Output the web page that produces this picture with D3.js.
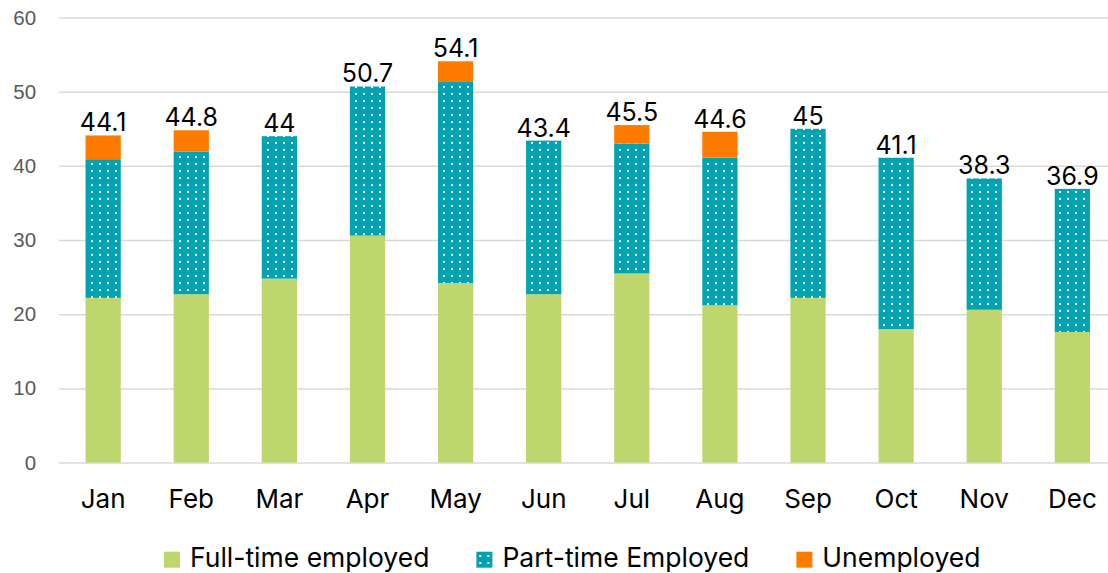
<!DOCTYPE html>
<html>
<head>
<meta charset="utf-8">
<script src="https://cdn.jsdelivr.net/npm/d3@7"></script>
<style>
  html, body { margin: 0; padding: 0; background: #fff; }
  svg { display: block; }
</style>
</head>
<body>
<svg id="chart" width="1108" height="573"></svg>
<script>
const months = ["Jan","Feb","Mar","Apr","May","Jun","Jul","Aug","Sep","Oct","Nov","Dec"];
const fullTime = [22.2, 22.7, 24.8, 30.6, 24.2, 22.7, 25.5, 21.2, 22.2, 18.0, 20.6, 17.6];
const partTime = [18.7, 19.2, 19.2, 20.1, 27.1, 20.7, 17.5, 19.9, 22.8, 23.1, 17.7, 19.3];
const unemployed = [3.2, 2.9, 0, 0, 2.8, 0, 2.5, 3.5, 0, 0, 0, 0];
const totals = [44.1, 44.8, 44, 50.7, 54.1, 43.4, 45.5, 44.6, 45, 41.1, 38.3, 36.9];
const yTicks = [0, 10, 20, 30, 40, 50, 60];
const seriesNames = ["Full-time employed", "Part-time Employed", "Unemployed"];

const svg = d3.select("#chart");
const W = 1108, H = 573;
const plot = { left: 59.1, right: 1116.4, top: 17.5, bottom: 462.6 };

const x = d3.scaleBand().domain(months).range([plot.left, plot.right])
  .paddingInner(0.6).paddingOuter(0.3);
const y = d3.scaleLinear().domain([0, 60]).range([plot.bottom, plot.top]);

const defs = svg.append("defs");
const pat = defs.append("pattern").attr("id", "dots")
  .attr("patternUnits", "userSpaceOnUse").attr("width", 8).attr("height", 7);
pat.append("rect").attr("width", 8).attr("height", 7).attr("fill", "#00A3B3");
pat.append("rect").attr("x", 3).attr("y", 2).attr("width", 2).attr("height", 2).attr("fill", "#ffffff");

const colors = ["#BFD66F", "url(#dots)", "#FF7B00"];

// gridlines + y tick labels
const yAxis = d3.axisLeft(y).tickValues(yTicks).tickSize(-(W - plot.left)).tickPadding(23);
const gy = svg.append("g").attr("transform", `translate(${plot.left},0)`).call(yAxis);
gy.select(".domain").remove();
gy.selectAll(".tick line").attr("stroke", "#D9D9D9").attr("stroke-width", 1.5);
gy.selectAll(".tick text")
  .attr("fill", "#595959")
  .attr("font-family", "'Liberation Sans', Arial, sans-serif")
  .attr("font-size", 20.5);

// stacked bars
const rows = months.map((m, i) => ({ month: m, full: fullTime[i], part: partTime[i], unemp: unemployed[i] }));
const stack = d3.stack().keys(["full", "part", "unemp"]);
const layers = stack(rows);

svg.append("g").selectAll("g").data(layers).join("g")
  .attr("fill", (d, i) => colors[i])
  .selectAll("rect").data(d => d.filter(s => s[1] - s[0] > 0)).join("rect")
  .attr("x", d => x(d.data.month))
  .attr("width", x.bandwidth())
  .attr("y", d => y(d[1]))
  .attr("height", d => y(d[0]) - y(d[1]));

// data labels
const fmt = v => String(Math.round(v * 10) / 10);
svg.append("g").selectAll("text").data(months).join("text")
  .attr("x", m => x(m) + x.bandwidth() / 2)
  .attr("y", (m, i) => y(totals[i]) - 4)
  .attr("text-anchor", "middle")
  .attr("font-family", "Inter, 'Liberation Sans', sans-serif")
  .attr("font-size", 25)
  .attr("fill", "#000")
  .text((m, i) => fmt(totals[i]));

// x axis labels
const xAxis = d3.axisBottom(x).tickSize(0).tickPadding(0);
const gx = svg.append("g").attr("transform", `translate(0,${plot.bottom})`).call(xAxis);
gx.select(".domain").remove();
gx.selectAll(".tick text")
  .attr("dy", null)
  .attr("y", 45.5)
  .attr("fill", "#000")
  .attr("font-family", "Inter, 'Liberation Sans', sans-serif")
  .attr("font-size", 26);

// legend
const legend = svg.append("g");
const items = legend.selectAll("g").data(seriesNames).join("g");
items.append("rect").attr("width", 16).attr("height", 16).attr("y", 551.7)
  .attr("fill", (d, i) => colors[i]);
items.append("text").attr("x", 26).attr("y", 567)
  .attr("font-family", "Inter, 'Liberation Sans', sans-serif")
  .attr("font-size", 26.5)
  .attr("fill", "#000")
  .text(d => d);
let widths = [];
items.each(function () { widths.push(d3.select(this).select("text").node().getComputedTextLength()); });
const gap = 47;
let cx = 164;
items.attr("transform", (d, i) => {
  const t = `translate(${cx},0)`;
  cx += 26 + widths[i] + gap;
  return t;
});
</script>
</body>
</html>
